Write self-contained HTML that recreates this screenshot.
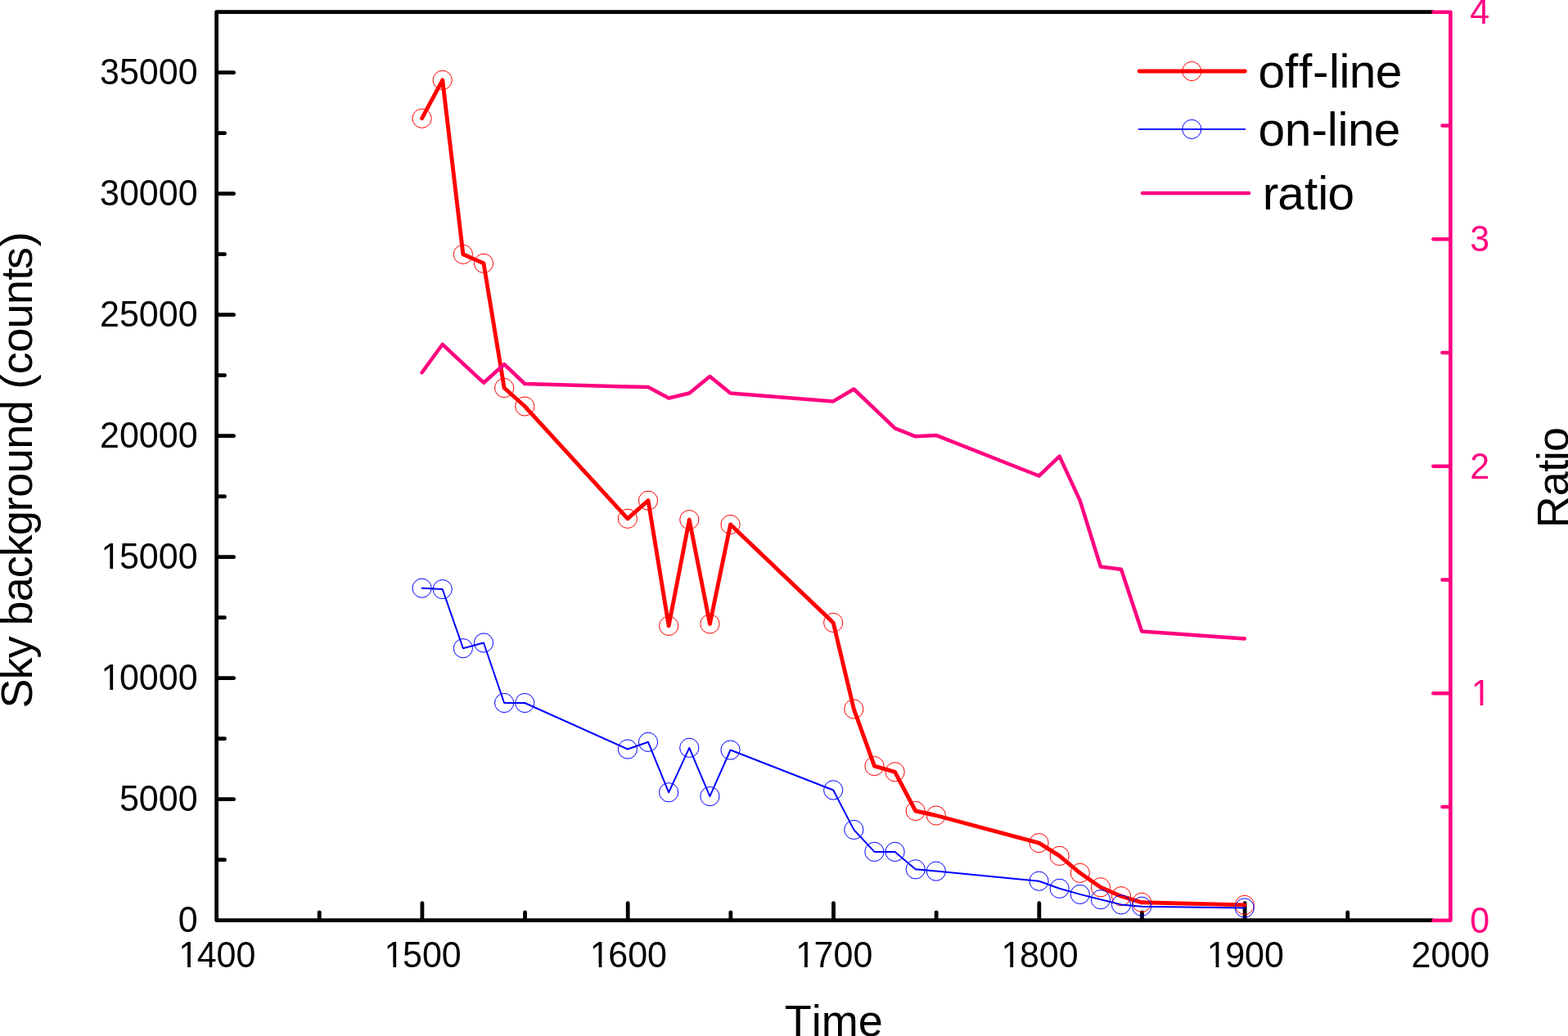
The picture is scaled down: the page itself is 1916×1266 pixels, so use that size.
<!DOCTYPE html>
<html lang="en"><head><meta charset="utf-8"><title>Sky background vs Time</title>
<style>html,body{margin:0;padding:0;background:#fff;}body{width:1916px;height:1266px;overflow:hidden;}svg{display:block;}text{font-family:'Liberation Sans', Arial, Helvetica, sans-serif;}</style>
</head><body>
<svg width="1916" height="1266" viewBox="0 0 1916 1266">
<rect x="0" y="0" width="1916" height="1266" fill="#ffffff"/>
<g fill="none" stroke="#000" stroke-width="4.8" stroke-linecap="round" stroke-linejoin="round">
<path stroke-linecap="butt" d="M1751.4 14.7 L264.6 14.7 L264.6 1124.7 L1751.4 1124.7"/>
<path d="M265.6 1050.7 h8.9"/>
<path d="M265.6 976.7 h20"/>
<path d="M265.6 902.7 h8.9"/>
<path d="M265.6 828.7 h20"/>
<path d="M265.6 754.7 h8.9"/>
<path d="M265.6 680.7 h20"/>
<path d="M265.6 606.7 h8.9"/>
<path d="M265.6 532.7 h20"/>
<path d="M265.6 458.7 h8.9"/>
<path d="M265.6 384.7 h20"/>
<path d="M265.6 310.7 h8.9"/>
<path d="M265.6 236.7 h20"/>
<path d="M265.6 162.7 h8.9"/>
<path d="M265.6 88.7 h20"/>
<path d="M390.25 1123.7 v-8.9"/>
<path d="M515.9 1123.7 v-20"/>
<path d="M641.55 1123.7 v-8.9"/>
<path d="M767.2 1123.7 v-20"/>
<path d="M892.85 1123.7 v-8.9"/>
<path d="M1018.5 1123.7 v-20"/>
<path d="M1144.15 1123.7 v-8.9"/>
<path d="M1269.8 1123.7 v-20"/>
<path d="M1395.45 1123.7 v-8.9"/>
<path d="M1521.1 1123.7 v-20"/>
<path d="M1646.75 1123.7 v-8.9"/>
</g>
<polyline points="515.6,144.7 540.73,97.9 565.86,310.8 590.99,321.8 616.12,474 641.25,496.5 766.9,633.8 792.03,611.7 817.16,764.9 842.29,635.1 867.42,762.4 892.55,641 1018.2,760.9 1043.33,866.4 1068.46,936.1 1093.59,943.3 1118.72,991 1143.85,996.5 1269.5,1030.1 1294.63,1045.9 1319.76,1066.8 1344.89,1084.3 1370.02,1095.2 1395.15,1102.8 1520.8,1105.9" fill="none" stroke="#ff0000" stroke-width="4.9" stroke-linejoin="round" stroke-linecap="round"/>
<g fill="none" stroke="#ff0000" stroke-width="1">
<circle cx="515.6" cy="144.7" r="11.6"/>
<circle cx="540.73" cy="97.9" r="11.6"/>
<circle cx="565.86" cy="310.8" r="11.6"/>
<circle cx="590.99" cy="321.8" r="11.6"/>
<circle cx="616.12" cy="474" r="11.6"/>
<circle cx="641.25" cy="496.5" r="11.6"/>
<circle cx="766.9" cy="633.8" r="11.6"/>
<circle cx="792.03" cy="611.7" r="11.6"/>
<circle cx="817.16" cy="764.9" r="11.6"/>
<circle cx="842.29" cy="635.1" r="11.6"/>
<circle cx="867.42" cy="762.4" r="11.6"/>
<circle cx="892.55" cy="641" r="11.6"/>
<circle cx="1018.2" cy="760.9" r="11.6"/>
<circle cx="1043.33" cy="866.4" r="11.6"/>
<circle cx="1068.46" cy="936.1" r="11.6"/>
<circle cx="1093.59" cy="943.3" r="11.6"/>
<circle cx="1118.72" cy="991" r="11.6"/>
<circle cx="1143.85" cy="996.5" r="11.6"/>
<circle cx="1269.5" cy="1030.1" r="11.6"/>
<circle cx="1294.63" cy="1045.9" r="11.6"/>
<circle cx="1319.76" cy="1066.8" r="11.6"/>
<circle cx="1344.89" cy="1084.3" r="11.6"/>
<circle cx="1370.02" cy="1095.2" r="11.6"/>
<circle cx="1395.15" cy="1102.8" r="11.6"/>
<circle cx="1520.8" cy="1105.9" r="11.6"/>
</g>
<polyline points="515.6,718.7 540.73,720.1 565.86,792.2 590.99,785.5 616.12,859 641.25,859 766.9,915.5 792.03,906.8 817.16,968.3 842.29,913.8 867.42,973.1 892.55,916.5 1018.2,965.5 1043.33,1013.9 1068.46,1040.9 1093.59,1040.9 1118.72,1062.3 1143.85,1064.6 1269.5,1076.7 1294.63,1085.8 1319.76,1092.9 1344.89,1099.2 1370.02,1105.4 1395.15,1107.7 1520.8,1109.5" fill="none" stroke="#0000ff" stroke-width="2" stroke-linejoin="round" stroke-linecap="round"/>
<g fill="none" stroke="#0000ff" stroke-width="1">
<circle cx="515.6" cy="718.7" r="11.6"/>
<circle cx="540.73" cy="720.1" r="11.6"/>
<circle cx="565.86" cy="792.2" r="11.6"/>
<circle cx="590.99" cy="785.5" r="11.6"/>
<circle cx="616.12" cy="859" r="11.6"/>
<circle cx="641.25" cy="859" r="11.6"/>
<circle cx="766.9" cy="915.5" r="11.6"/>
<circle cx="792.03" cy="906.8" r="11.6"/>
<circle cx="817.16" cy="968.3" r="11.6"/>
<circle cx="842.29" cy="913.8" r="11.6"/>
<circle cx="867.42" cy="973.1" r="11.6"/>
<circle cx="892.55" cy="916.5" r="11.6"/>
<circle cx="1018.2" cy="965.5" r="11.6"/>
<circle cx="1043.33" cy="1013.9" r="11.6"/>
<circle cx="1068.46" cy="1040.9" r="11.6"/>
<circle cx="1093.59" cy="1040.9" r="11.6"/>
<circle cx="1118.72" cy="1062.3" r="11.6"/>
<circle cx="1143.85" cy="1064.6" r="11.6"/>
<circle cx="1269.5" cy="1076.7" r="11.6"/>
<circle cx="1294.63" cy="1085.8" r="11.6"/>
<circle cx="1319.76" cy="1092.9" r="11.6"/>
<circle cx="1344.89" cy="1099.2" r="11.6"/>
<circle cx="1370.02" cy="1105.4" r="11.6"/>
<circle cx="1395.15" cy="1107.7" r="11.6"/>
<circle cx="1520.8" cy="1109.5" r="11.6"/>
</g>
<polyline points="515.6,455.3 540.73,420.8 565.86,444.3 590.99,467.7 616.12,445.2 641.25,469 766.9,472.5 792.03,473 817.16,486.5 842.29,480.5 867.42,460.1 892.55,480.5 1018.2,490.4 1043.33,475.5 1068.46,499.4 1093.59,523.3 1118.72,533.3 1143.85,531.9 1269.5,581.5 1294.63,557.6 1319.76,611.9 1344.89,692.5 1370.02,695.8 1395.15,771.4 1520.8,780.5" fill="none" stroke="#ff007f" stroke-width="4.5" stroke-linejoin="round" stroke-linecap="round"/>
<g fill="none" stroke="#ff007f" stroke-width="4.6" stroke-linecap="round" stroke-linejoin="round">
<path d="M1751.4 14.7 L1772.4 14.7 L1772.4 1124.7 L1751.4 1124.7"/>
<path d="M1771.4 985.95 h-8.9"/>
<path d="M1771.4 847.2 h-20"/>
<path d="M1771.4 708.45 h-8.9"/>
<path d="M1771.4 569.7 h-20"/>
<path d="M1771.4 430.95 h-8.9"/>
<path d="M1771.4 292.2 h-20"/>
<path d="M1771.4 153.45 h-8.9"/>
</g>
<g font-size="43" fill="#000">
<text transform="translate(217.69 1139.4) scale(1 1.025)">0</text>
<text transform="translate(145.94 991.4) scale(1 1.025)">5000</text>
<text transform="translate(122.03 843.4) scale(1 1.025)" dx="1.5 -1.5 0 0 0">10000</text>
<text transform="translate(122.03 695.4) scale(1 1.025)" dx="1.5 -1.5 0 0 0">15000</text>
<text transform="translate(122.03 547.4) scale(1 1.025)">20000</text>
<text transform="translate(122.03 399.4) scale(1 1.025)">25000</text>
<text transform="translate(122.03 251.4) scale(1 1.025)">30000</text>
<text transform="translate(122.03 103.4) scale(1 1.025)">35000</text>
<text transform="translate(216.77 1182.1) scale(1 1.025)" dx="1.5 -1.5 0 0">1400</text>
<text transform="translate(468.07 1182.1) scale(1 1.025)" dx="1.5 -1.5 0 0">1500</text>
<text transform="translate(719.37 1182.1) scale(1 1.025)" dx="1.5 -1.5 0 0">1600</text>
<text transform="translate(970.67 1182.1) scale(1 1.025)" dx="1.5 -1.5 0 0">1700</text>
<text transform="translate(1221.97 1182.1) scale(1 1.025)" dx="1.5 -1.5 0 0">1800</text>
<text transform="translate(1473.27 1182.1) scale(1 1.025)" dx="1.5 -1.5 0 0">1900</text>
<text transform="translate(1724.57 1182.1) scale(1 1.025)">2000</text>
</g>
<g font-size="43" fill="#ff007f">
<text transform="translate(1796.3 1139.7) scale(1 1.025)">0</text>
<text transform="translate(1796.3 862.2) scale(1 1.025)" dx="1.5">1</text>
<text transform="translate(1796.3 584.7) scale(1 1.025)">2</text>
<text transform="translate(1796.3 307.2) scale(1 1.025)">3</text>
<text transform="translate(1796.3 29.3) scale(1 1.025)">4</text>
</g>
<g fill="#fff">
<rect x="125.8" y="838.81" width="8.54" height="5.59"/>
<rect x="138.14" y="838.81" width="8.2" height="5.59"/>
<rect x="125.8" y="690.81" width="8.54" height="5.59"/>
<rect x="138.14" y="690.81" width="8.2" height="5.59"/>
<rect x="220.55" y="1177.51" width="8.54" height="5.59"/>
<rect x="232.88" y="1177.51" width="8.2" height="5.59"/>
<rect x="471.85" y="1177.51" width="8.54" height="5.59"/>
<rect x="484.18" y="1177.51" width="8.2" height="5.59"/>
<rect x="723.15" y="1177.51" width="8.54" height="5.59"/>
<rect x="735.48" y="1177.51" width="8.2" height="5.59"/>
<rect x="974.45" y="1177.51" width="8.54" height="5.59"/>
<rect x="986.78" y="1177.51" width="8.2" height="5.59"/>
<rect x="1225.75" y="1177.51" width="8.54" height="5.59"/>
<rect x="1238.08" y="1177.51" width="8.2" height="5.59"/>
<rect x="1477.05" y="1177.51" width="8.54" height="5.59"/>
<rect x="1489.38" y="1177.51" width="8.2" height="5.59"/>
<rect x="1800.08" y="857.61" width="8.54" height="5.59"/>
<rect x="1812.41" y="857.61" width="8.2" height="5.59"/>
</g>
<g font-size="54" fill="#000" style="font-kerning:none">
<text transform="translate(958.8 1265.7) scale(1 1.01)">Time</text>
<text transform="translate(39.1 865.5) rotate(-90) scale(1 1.01)" dx="0 -0.98 -0.98 -0.98 -0.98 -0.98 -0.98 -0.98 -0.98 -0.98 -0.55 -0.55 -0.55 -0.55 -0.6 -0.6 0.2 -0.62 -0.62 -0.62 -0.62 -1.4 0.8">Sky background (counts)</text>
<text transform="translate(1916.2 645.2) rotate(-90) scale(1 1.01)" dx="0 0 -0.6 -1.2 -1">Ratio</text>
</g>
<g fill="none" stroke-linecap="round">
<path d="M1392.1 87 H1521.4" stroke="#ff0000" stroke-width="4.8"/>
<circle cx="1456.3" cy="87" r="11.6" stroke="#ff0000" stroke-width="1"/>
<path d="M1391.6 157.9 H1521.4" stroke="#0000ff" stroke-width="1.9"/>
<circle cx="1456.3" cy="157.9" r="11.6" stroke="#0000ff" stroke-width="1"/>
<path d="M1396 235.9 H1526" stroke="#ff007f" stroke-width="4.5"/>
</g>
<g font-size="58.6" fill="#000" style="font-kerning:none">
<text transform="translate(1537.4 107.2) scale(1 0.968)" dx="0 0 0.7 0.8 0.3 -0.3 -0.8 -0.7">off-line</text>
<text transform="translate(1537.4 177.6) scale(1 0.968)" dx="0 -0.2 0.2 -0.3 -0.2 -0.7 -0.8">on-line</text>
<text transform="translate(1542.8 256.4) scale(1 0.968)" dx="0 -1 0 0 -0.8">ratio</text>
</g>
</svg>
</body></html>
